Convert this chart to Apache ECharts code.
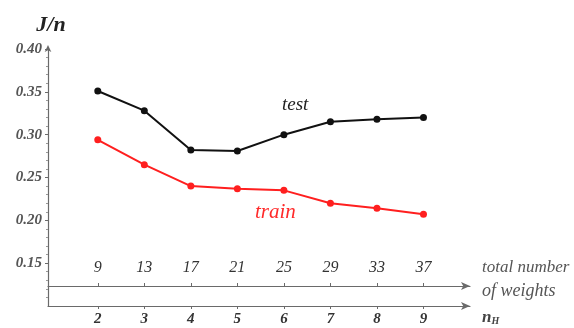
<!DOCTYPE html>
<html>
<head>
<meta charset="utf-8">
<script src="https://cdn.jsdelivr.net/npm/echarts@6/dist/echarts.min.js"></script>
<style>
  html, body { margin: 0; padding: 0; background: #fff; }
  #chart { width: 574px; height: 328px; }
</style>
</head>
<body>
<div id="chart"></div>
<script>
// Number of hidden units n_H and the matching total number of weights
const hiddenUnits = [2, 3, 4, 5, 6, 7, 8, 9];
const weightLabels = ['9', '13', '17', '21', '25', '29', '33', '37'];
// Error per pattern J/n
const testError  = [0.351, 0.328, 0.282, 0.281, 0.300, 0.315, 0.318, 0.320];
const trainError = [0.294, 0.265, 0.240, 0.237, 0.235, 0.220, 0.214, 0.207];
const yTicks = [0.15, 0.20, 0.25, 0.30, 0.35, 0.40];

const serif = '"Liberation Serif", "DejaVu Serif", serif';
const axisGrey = '#6a6a6a';

const chart = echarts.init(document.getElementById('chart'));

const xBase = {
  type: 'value',
  min: 0.93,
  max: 10,
  gridIndex: 0,
  splitLine: { show: false },
  axisLine: {
    show: true,
    lineStyle: { color: axisGrey, width: 1.2 },
    symbol: ['none', 'arrow'],
    symbolSize: [6, 9]
  },
  axisTick: { show: true, length: 3, customValues: hiddenUnits, lineStyle: { color: axisGrey } }
};

chart.setOption({
  animation: false,
  grid: { left: 48, right: 104, top: 49, bottom: 22 },
  xAxis: [
    Object.assign({}, xBase, {
      position: 'bottom',
      axisLabel: {
        customValues: hiddenUnits,
        fontFamily: serif, fontStyle: 'italic', fontWeight: 'bold',
        fontSize: 15, color: '#333', margin: 6
      }
    }),
    Object.assign({}, xBase, {
      position: 'bottom',
      offset: -20,
      axisTick: { show: true, inside: true, length: 3, customValues: hiddenUnits, lineStyle: { color: axisGrey } },
      axisLabel: {
        inside: true,
        customValues: hiddenUnits,
        formatter: v => weightLabels[hiddenUnits.indexOf(Math.round(v))] || '',
        fontFamily: serif, fontStyle: 'italic',
        fontSize: 16, color: '#333', margin: 10
      }
    })
  ],
  yAxis: {
    type: 'value',
    min: 0.10,
    max: 0.40,
    interval: 0.05,
    splitLine: { show: false },
    axisLine: {
      show: true,
      lineStyle: { color: axisGrey, width: 1.2 },
      symbol: ['none', 'arrow'],
      symbolSize: [5, 7],
      symbolOffset: [0, 4]
    },
    axisTick: { show: true, length: 3, customValues: yTicks, lineStyle: { color: axisGrey } },
    minorTick: { show: true, splitNumber: 5, length: 2, lineStyle: { color: '#999' } },
    axisLabel: {
      customValues: yTicks,
      formatter: v => v.toFixed(2),
      fontFamily: serif, fontStyle: 'italic', fontWeight: 'bold',
      fontSize: 15, color: '#555', margin: 6
    },
    name: 'J/n',
    nameLocation: 'end',
    nameGap: 13,
    nameTextStyle: {
      fontFamily: serif, fontStyle: 'italic', fontWeight: 'bold',
      fontSize: 22, color: '#222', align: 'center', padding: [0, 0, 0, 6]
    }
  },
  series: [
    {
      name: 'test',
      type: 'line',
      xAxisIndex: 0,
      data: hiddenUnits.map((n, i) => [n, testError[i]]),
      symbol: 'circle',
      symbolSize: 7,
      lineStyle: { color: '#111', width: 2 },
      itemStyle: { color: '#111' }
    },
    {
      name: 'train',
      type: 'line',
      xAxisIndex: 0,
      data: hiddenUnits.map((n, i) => [n, trainError[i]]),
      symbol: 'circle',
      symbolSize: 7,
      lineStyle: { color: '#ff1f1f', width: 2 },
      itemStyle: { color: '#ff1f1f' }
    }
  ],
  graphic: [
    { type: 'text', left: 282, top: 95,
      style: { text: 'test', font: 'italic 19px ' + serif, fill: '#222' } },
    { type: 'text', left: 255, top: 202,
      style: { text: 'train', font: 'italic 21px ' + serif, fill: '#ff2a2a' } },
    { type: 'text', left: 482, top: 259,
      style: { text: 'total number', font: 'italic 17px ' + serif, fill: '#555' } },
    { type: 'text', left: 482, top: 282,
      style: { text: 'of weights', font: 'italic 18px ' + serif, fill: '#555' } },
    { type: 'text', left: 482, top: 309,
      style: {
        text: '{n|n}{h|H}',
        rich: {
          n: { fontFamily: serif, fontStyle: 'italic', fontWeight: 'bold', fontSize: 17, fill: '#444' },
          h: { fontFamily: serif, fontStyle: 'italic', fontWeight: 'bold', fontSize: 10, fill: '#444', padding: [8, 0, 0, 0] }
        }
      } }
  ]
});
</script>
</body>
</html>
